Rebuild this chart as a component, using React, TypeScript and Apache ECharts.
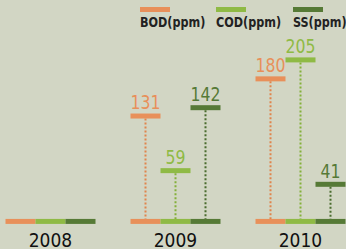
import React, { useEffect, useRef } from "react";
import * as echarts from "echarts";

const years = ["2008", "2009", "2010"];
const seriesNames = ["BOD(ppm)", "COD(ppm)", "SS(ppm)"];
const bod: (number | null)[] = [null, 131, 180];
const cod: (number | null)[] = [null, 59, 205];
const ss: (number | null)[] = [null, 142, 41];

const colors = ["#e8905a", "#8fba45", "#567a36"];
const dotColors = ["#e0844c", "#84b03a", "#4a6c2e"];
const FONT = "'DejaVu Sans Condensed', 'Noto Sans', sans-serif";

export default function App() {
  const ref = useRef<HTMLDivElement>(null);
  useEffect(() => {
    document.body.style.margin = "0";
    const chart = echarts.init(ref.current!, null, { renderer: "svg" });
    const values = [bod, cod, ss];
    const SEG = 30;

    const baseRender = (params: any, api: any) => {
      const cat = api.value(0);
      const zero = api.coord([cat, 0]);
      const children = colors.map((c, si) => ({
        type: "rect",
        shape: { x: zero[0] + (si - 1) * SEG - SEG / 2, y: zero[1] + 3.5, width: SEG, height: 5 },
        style: { fill: c },
      }));
      return { type: "group", children };
    };

    const makeRender = (si: number) => (params: any, api: any) => {
      const cat = api.value(0);
      const v = api.value(1);
      const pt = api.coord([cat, v]);
      const zero = api.coord([cat, 0]);
      const cx = pt[0] + (si - 1) * SEG;
      return {
        type: "group",
        children: [
          {
            type: "line",
            shape: { x1: cx, y1: pt[1] + 2.5, x2: cx, y2: zero[1] + 3.5 },
            style: { stroke: dotColors[si], lineWidth: 2, lineDash: [2, 2] },
          },
          {
            type: "rect",
            shape: { x: cx - SEG / 2, y: pt[1] - 2.5, width: SEG, height: 5 },
            style: { fill: colors[si] },
          },
          {
            type: "text",
            x: cx,
            y: pt[1] - 4,
            scaleX: 0.92,
            style: {
              text: String(v),
              fill: colors[si],
              fontSize: 19,
              fontFamily: FONT,
              align: "center",
              verticalAlign: "bottom",
            },
          },
        ],
      };
    };

    const legendX = [140, 216, 293];
    const graphic: any[] = [];
    seriesNames.forEach((n, i) => {
      graphic.push({
        type: "rect",
        x: legendX[i],
        y: 7,
        shape: { x: 0, y: 0, width: 30, height: 5 },
        style: { fill: colors[i] },
      });
      graphic.push({
        type: "text",
        x: legendX[i],
        y: 15,
        scaleX: 0.89,
        style: {
          text: n,
          fill: "#222",
          fontSize: 14,
          fontWeight: "bold",
          fontFamily: FONT,
          align: "left",
          verticalAlign: "top",
        },
      });
    });

    chart.setOption({
      animation: false,
      backgroundColor: "#d2d6c4",
      grid: { left: -12, width: 375, top: 3, height: 220, outerBoundsMode: "none", containLabel: false },
      xAxis: {
        type: "category",
        data: years,
        axisLine: { show: false },
        axisTick: { show: false },
        axisLabel: { fontSize: 19, color: "#111", fontFamily: FONT, margin: 7 },
      },
      yAxis: { type: "value", min: -10, max: 280, show: false, splitLine: { show: false } },
      graphic,
      series: [
        {
          type: "custom",
          name: "base",
          renderItem: baseRender,
          data: years.map((_, i) => [i, 0]),
        },
        ...values.map((arr, si) => ({
          type: "custom",
          name: seriesNames[si],
          renderItem: makeRender(si),
          data: arr
            .map((v, i) => (v == null ? null : [i, v]))
            .filter((d) => d !== null),
        })),
      ],
    });
    return () => chart.dispose();
  }, []);
  return <div ref={ref} style={{ position: "absolute", left: 0, top: 0, width: 346, height: 249 }} />;
}
